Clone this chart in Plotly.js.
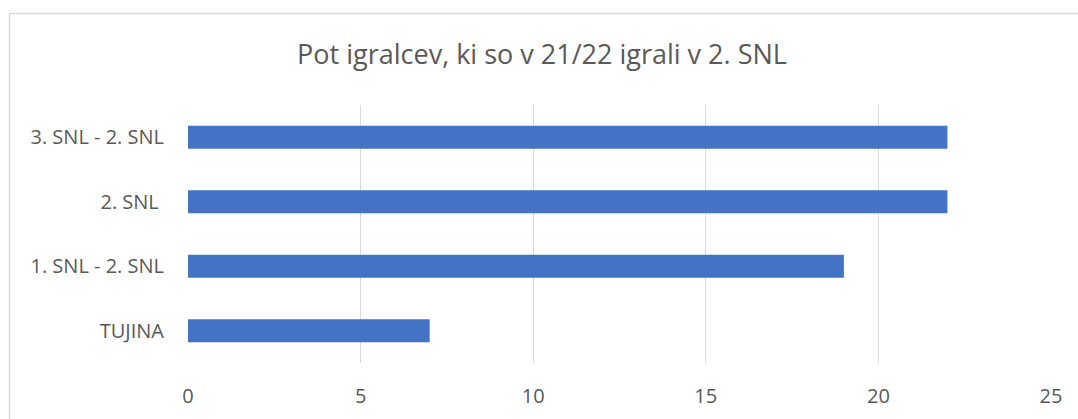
<!DOCTYPE html>
<html>
<head>
<meta charset="utf-8">
<script src="https://cdn.plot.ly/plotly-3.0.1.min.js"></script>
<style>
html,body{margin:0;padding:0;background:#fff;}
#chart{width:1078px;height:419px;}
</style>
</head>
<body>
<div id="chart"></div>
<script>
const categories = ["TUJINA", "1. SNL - 2. SNL", "2. SNL ", "3. SNL - 2. SNL"];
const values = [7, 19, 22, 22];
const tickValues = [0, 5, 10, 15, 20, 25];
const titleText = "Pot igralcev, ki so v 21/22 igrali v 2. SNL";

const W = 1078, H = 419;
const mL = 188, mR = W - 1051, mT = 105, mB = H - 363;
const pw = W - mL - mR, ph = H - mT - mB;
const px = p => (p - mL) / pw;
const py = p => (H - mB - p) / ph;

const font = "'Open Sans', 'Noto Sans', sans-serif";

Plotly.newPlot('chart', [{
  type: 'bar',
  orientation: 'h',
  y: categories,
  x: values,
  marker: {color: '#4472C4', line: {width: 0}},
  hoverinfo: 'none'
}], {
  width: W, height: H,
  margin: {l: mL, r: mR, t: mT, b: mB, pad: 0},
  paper_bgcolor: '#ffffff',
  plot_bgcolor: '#ffffff',
  bargap: 0.643,
  showlegend: false,
  title: {
    text: titleText,
    font: {family: font, size: 27, color: '#595959'},
    x: 542 / W, xref: 'container', xanchor: 'center',
    y: 1 - 55 / H, yref: 'container', yanchor: 'middle'
  },
  xaxis: {
    range: [0, 25],
    tickvals: tickValues,
    showgrid: true, gridcolor: '#d9d9d9', gridwidth: 1,
    zeroline: false, showline: false,
    ticks: '',
    ticklabelstandoff: 19,
    tickfont: {family: font, size: 20, color: '#595959'},
    fixedrange: true
  },
  yaxis: {
    type: 'category',
    categoryorder: 'array', categoryarray: categories,
    showgrid: false, zeroline: false, showline: false,
    ticks: '',
    ticklabelstandoff: 23,
    tickfont: {family: font, size: 20, color: '#595959'},
    fixedrange: true
  },
  shapes: [{
    type: 'rect', xref: 'paper', yref: 'paper', layer: 'above',
    x0: px(9.5), x1: px(1090), y0: py(430), y1: py(13.5),
    line: {color: '#d9d9d9', width: 1.5}, fillcolor: 'rgba(0,0,0,0)'
  }]
}, {displayModeBar: false, staticPlot: true});
</script>
</body>
</html>
